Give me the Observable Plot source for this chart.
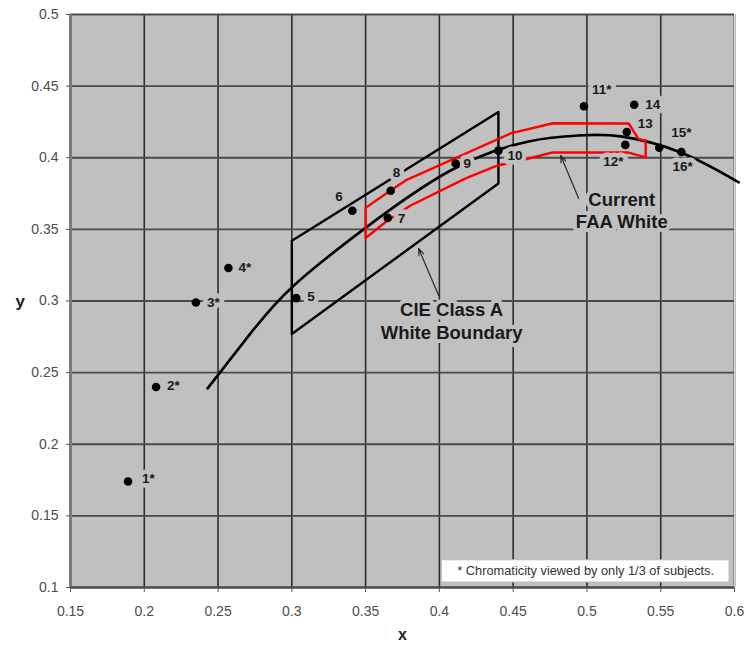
<!DOCTYPE html>
<html>
<head>
<meta charset="utf-8">
<script src="https://cdn.jsdelivr.net/npm/d3@7"></script>
<script src="https://cdn.jsdelivr.net/npm/@observablehq/plot@0.6"></script>
<style>
  html, body { margin: 0; padding: 0; background: #ffffff; }
  #chart { width: 746px; height: 649px; }
</style>
</head>
<body>
<div id="chart"></div>
<script>
// ---- data ----
const xTicks = [0.15, 0.2, 0.25, 0.3, 0.35, 0.4, 0.45, 0.5, 0.55, 0.6];
const yTicks = [0.1, 0.15, 0.2, 0.25, 0.3, 0.35, 0.4, 0.45, 0.5];

const pointLabels = ["1*", "2*", "3*", "4*", "5", "6", "7", "8", "9", "10", "11*", "12*", "13", "14", "15*", "16*"];
const pointX = [0.189, 0.208, 0.235, 0.257, 0.303, 0.341, 0.365, 0.367, 0.411, 0.440, 0.498, 0.526, 0.527, 0.532, 0.549, 0.564];
const pointY = [0.174, 0.240, 0.299, 0.323, 0.302, 0.363, 0.358, 0.377, 0.396, 0.405, 0.436, 0.409, 0.418, 0.437, 0.407, 0.404];

// black curve (reference locus)
const locusX = [0.2429, 0.2720, 0.3005, 0.3486, 0.4076, 0.4605, 0.4958, 0.5229, 0.5636, 0.6029];
const locusY = [0.2390, 0.2774, 0.3100, 0.3500, 0.3911, 0.4114, 0.4156, 0.4149, 0.4037, 0.3828];

// CIE Class A white boundary
const cieX = [0.300, 0.440, 0.440, 0.300, 0.300];
const cieY = [0.342, 0.432, 0.382, 0.277, 0.342];

// Current FAA white boundary (red)
const faaX = [0.350, 0.350, 0.3649, 0.3805, 0.4178, 0.4395, 0.4605, 0.4768, 0.5073, 0.5276, 0.5398, 0.5398, 0.5351, 0.5283, 0.4768, 0.4483, 0.3771, 0.3649, 0.350];
const faaY = [0.365, 0.344, 0.3562, 0.3667, 0.3856, 0.3946, 0.3995, 0.4037, 0.4037, 0.4037, 0.4002, 0.4121, 0.4128, 0.4239, 0.4241, 0.4170, 0.3842, 0.3758, 0.365];

// annotations
const annText = ["Current\nFAA White", "CIE Class A\nWhite Boundary"];
const annX = [0.5236, 0.4083];
const annY = [0.3634, 0.2865];
const arrowX1 = [0.4944, 0.3995];
const arrowY1 = [0.3716, 0.3039];
const arrowX2 = [0.4822, 0.3859];
const arrowY2 = [0.4016, 0.3367];

const noteText = "* Chromaticity viewed by only 1/3 of subjects.";
const noteBoxX = [0.4017, 0.5966];
const noteBoxY = [0.1035, 0.1190];

// ---- layout (pixel offsets for point labels) ----
const labelOffset = {
  "1*": [14, -3], "2*": [11, -1], "3*": [11, 0], "4*": [10, 0], "5": [11, -1],
  "6": [-17, -14], "7": [10, 1], "8": [2, -18], "9": [8, 0], "10": [9, 5],
  "11*": [8, -17], "12*": [-22, 17], "13": [11, -8], "14": [11, 0],
  "15*": [12, -15], "16*": [-9, 15]
};

const points = pointLabels.map((t, i) => ({label: t, x: pointX[i], y: pointY[i]}));
const locus = locusX.map((x, i) => ({x, y: locusY[i]}));
const cie = cieX.map((x, i) => ({x, y: cieY[i]}));
const faa = faaX.map((x, i) => ({x, y: faaY[i]}));
const anns = annText.map((t, i) => ({t, x: annX[i], y: annY[i], x1: arrowX1[i], y1: arrowY1[i], x2: arrowX2[i], y2: arrowY2[i]}));

const BG = "#c0c0c0";
const fmt = d => String(+d.toFixed(2));

const labelMarks = points.map(p => Plot.text([p], {
  x: "x", y: "y", text: "label",
  dx: labelOffset[p.label][0], dy: labelOffset[p.label][1],
  textAnchor: "start", fontSize: 13.5, fontWeight: "bold", fill: "#1a1a1a",
  stroke: BG, strokeWidth: 9, paintOrder: "stroke", strokeLinejoin: "round"
}));

const chart = Plot.plot({
  width: 746,
  height: 649,
  marginLeft: 70,
  marginRight: 12,
  marginTop: 14,
  marginBottom: 62,
  x: {domain: [0.15, 0.6]},
  y: {domain: [0.1, 0.5]},
  style: {background: "#ffffff", fontFamily: "'Liberation Sans', Arial, sans-serif", overflow: "visible"},
  marks: [
    Plot.frame({fill: BG, stroke: null}),
    Plot.gridX(xTicks, {stroke: "#2e2e2e", strokeOpacity: 1, strokeWidth: 1.6}),
    Plot.gridY(yTicks, {stroke: "#4a4a4a", strokeOpacity: 1, strokeWidth: 1.8}),
    Plot.ruleX([0.6], {stroke: "#d8d8d8", strokeWidth: 1}),
    Plot.ruleX([0.15], {stroke: "#7a7a7a", strokeWidth: 3}),
    Plot.ruleY([0.1], {stroke: "#4a4a4a", strokeWidth: 2}),
    Plot.axisX(xTicks, {tickSize: 5, tickPadding: 14, tickFormat: fmt, fontSize: 14, fill: "#4d4d4d", stroke: "#555", label: null}),
    Plot.axisY(yTicks, {tickSize: 4, tickPadding: 8, tickFormat: fmt, fontSize: 14, fill: "#4d4d4d", stroke: "#555", label: null}),
    Plot.text(["x"], {frameAnchor: "bottom", dy: 52, fontSize: 16, fontWeight: "bold", fill: "#222"}),
    Plot.text(["y"], {frameAnchor: "left", dx: -55, dy: 1, fontSize: 17, fontWeight: "bold", fill: "#222"}),
    // curves and boundaries
    Plot.line(locus, {x: "x", y: "y", stroke: "#000", strokeWidth: 2.6, curve: "natural"}),
    Plot.line(cie, {x: "x", y: "y", stroke: "#000", strokeWidth: 2.4}),
    Plot.line(faa, {x: "x", y: "y", stroke: "#ff0000", strokeWidth: 2.4}),
    // annotations
    Plot.arrow(anns, {x1: "x1", y1: "y1", x2: "x2", y2: "y2", stroke: "#2a2a2a", strokeWidth: 1.2, headLength: 9, headAngle: 40}),
    Plot.text(anns, {x: "x", y: "y", text: "t", fontSize: 18.5, fontWeight: "bold", fill: "#1a1a1a", lineHeight: 1.2,
      stroke: BG, strokeWidth: 8, paintOrder: "stroke", strokeLinejoin: "round"}),
    ...labelMarks,
    Plot.dot(points, {x: "x", y: "y", r: 4.3, fill: "#000", stroke: null}),
    // footnote box
    Plot.rect([0], {x1: () => noteBoxX[0], x2: () => noteBoxX[1], y1: () => noteBoxY[0], y2: () => noteBoxY[1], fill: "#ffffff", stroke: "#bdbdbd", strokeWidth: 1}),
    Plot.text([noteText], {x: () => (noteBoxX[0] + noteBoxX[1]) / 2, y: () => (noteBoxY[0] + noteBoxY[1]) / 2, text: d => d, fontSize: 12.8, fill: "#333"})
  ]
});
document.getElementById("chart").appendChild(chart);
</script>
</body>
</html>
